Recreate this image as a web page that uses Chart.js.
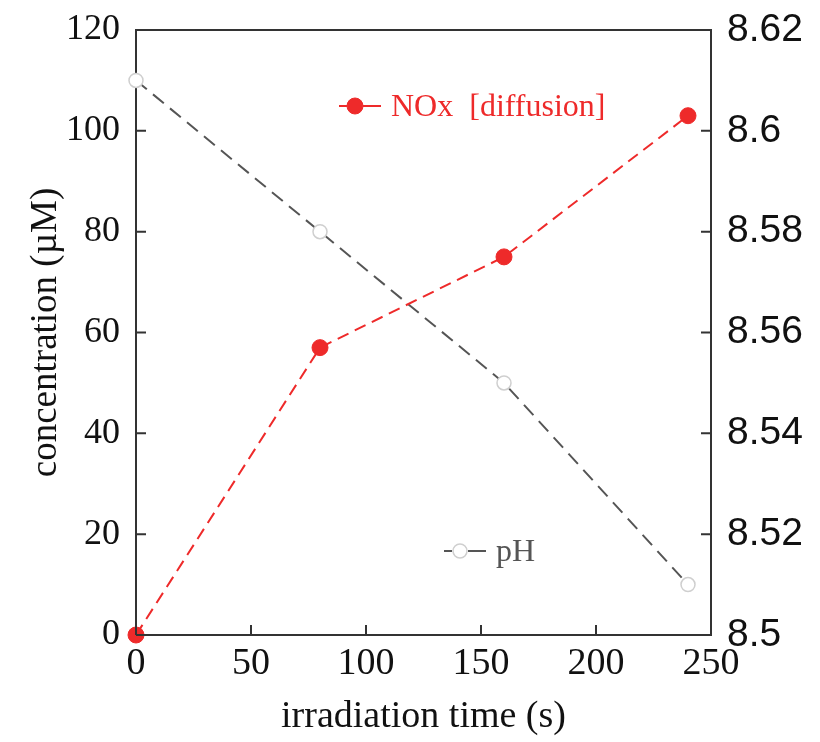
<!DOCTYPE html>
<html>
<head>
<meta charset="utf-8">
<script src="https://cdn.jsdelivr.net/npm/chart.js@4.4.1/dist/chart.umd.min.js"></script>
<style>
  html, body { margin: 0; padding: 0; background: #fff; }
  #wrap { width: 820px; height: 742px; }
</style>
</head>
<body>
<div id="wrap"><canvas id="chart"></canvas></div>
<script>
const times = [0, 80, 160, 240];
const noxValues = [0, 57, 75, 103];
const phValues = [8.61, 8.58, 8.55, 8.51];

const SERIF = '"Liberation Serif", "DejaVu Serif", serif';
const SANS = '"Liberation Sans", Arial, sans-serif';
const AXIS = '#333';

// inward tick marks + top frame line
const frame = {
  id: 'frame',
  afterDraw(chart) {
    const { ctx, chartArea: a, scales } = chart;
    ctx.save();
    ctx.strokeStyle = AXIS;
    ctx.lineWidth = 2;
    ctx.beginPath();
    ctx.moveTo(a.left, a.top);
    ctx.lineTo(a.right, a.top);
    scales.x.ticks.forEach(t => {
      const px = scales.x.getPixelForValue(t.value);
      ctx.moveTo(px, a.bottom);
      ctx.lineTo(px, a.bottom - 10);
    });
    scales.y.ticks.forEach(t => {
      const py = scales.y.getPixelForValue(t.value);
      ctx.moveTo(a.left, py);
      ctx.lineTo(a.left + 10, py);
    });
    scales.y1.ticks.forEach(t => {
      const py = scales.y1.getPixelForValue(t.value);
      ctx.moveTo(a.right, py);
      ctx.lineTo(a.right - 10, py);
    });
    ctx.stroke();
    ctx.restore();
  }
};

// legend entries placed inside the plot
const inlineLegend = {
  id: 'inlineLegend',
  afterDatasetsDraw(chart, args, opts) {
    const { ctx } = chart;
    opts.items.forEach(it => {
      const ds = chart.data.datasets[it.index];
      ctx.save();
      ctx.strokeStyle = it.lineColor;
      ctx.lineWidth = 2;
      ctx.beginPath();
      ctx.moveTo(it.x - 16, it.y);
      ctx.lineTo(it.x - 8, it.y);
      ctx.moveTo(it.x + 8, it.y);
      ctx.lineTo(it.x + 26, it.y);
      ctx.stroke();
      ctx.beginPath();
      ctx.arc(it.x, it.y, ds.pointRadius, 0, Math.PI * 2);
      ctx.fillStyle = ds.pointBackgroundColor;
      ctx.fill();
      ctx.lineWidth = ds.pointBorderWidth;
      ctx.strokeStyle = ds.pointBorderColor;
      ctx.stroke();
      ctx.fillStyle = it.textColor;
      ctx.font = '32px ' + SERIF;
      ctx.textBaseline = 'middle';
      ctx.fillText(ds.label, it.x + 36, it.y + 2);
      ctx.restore();
    });
  }
};

const noEdgePad = s => { s.paddingTop = 0; s.paddingBottom = 0; };

new Chart(document.getElementById('chart'), {
  type: 'line',
  data: {
    labels: times,
    datasets: [
      {
        label: 'NOx  [diffusion]',
        data: times.map((t, i) => ({ x: t, y: noxValues[i] })),
        yAxisID: 'y',
        borderColor: '#ee2a2a',
        borderWidth: 2,
        borderDash: [12, 7],
        pointRadius: 8,
        pointBackgroundColor: '#ee2a2a',
        pointBorderColor: '#ee2a2a',
        pointBorderWidth: 1,
        tension: 0,
        clip: false
      },
      {
        label: 'pH',
        data: times.map((t, i) => ({ x: t, y: phValues[i] })),
        yAxisID: 'y1',
        borderColor: '#555',
        borderWidth: 2,
        borderDash: [14, 8],
        pointRadius: 7,
        pointBackgroundColor: '#fff',
        pointBorderColor: '#cfcfcf',
        pointBorderWidth: 1.5,
        tension: 0,
        clip: false
      }
    ]
  },
  options: {
    responsive: true,
    maintainAspectRatio: false,
    animation: false,
    layout: { padding: { top: 30, left: 0, right: 0, bottom: 0 } },
    plugins: {
      legend: { display: false },
      tooltip: { enabled: false },
      inlineLegend: {
        items: [
          { index: 0, x: 355, y: 106, lineColor: '#ee2a2a', textColor: '#ee2a2a' },
          { index: 1, x: 460, y: 551, lineColor: '#555', textColor: '#555' }
        ]
      }
    },
    scales: {
      x: {
        type: 'linear',
        min: 0,
        max: 250,
        ticks: { stepSize: 50, color: '#111', font: { family: SERIF, size: 38 }, padding: 6, maxRotation: 0 },
        grid: { display: false, drawTicks: false },
        border: { color: AXIS, width: 2 },
        title: { display: true, text: 'irradiation time (s)', color: '#111', font: { family: SERIF, size: 38 }, padding: { top: 4, bottom: 2 } },
        afterFit: s => { s.height = 107; s.paddingLeft = 0; s.paddingRight = 0; }
      },
      y: {
        position: 'left',
        min: 0,
        max: 120,
        ticks: { stepSize: 20, color: '#111', font: { family: SERIF, size: 36 }, padding: 16 },
        grid: { display: false, drawTicks: false },
        border: { color: AXIS, width: 2 },
        title: { display: true, text: 'concentration (µM)', color: '#111', font: { family: SERIF, size: 37 }, padding: { top: 24, bottom: 0 } },
        afterFit: s => { s.width = 136; noEdgePad(s); }
      },
      y1: {
        position: 'right',
        min: 8.5,
        max: 8.62,
        ticks: { stepSize: 0.02, color: '#111', font: { family: SANS, size: 39 }, padding: 16, callback: v => String(+v.toFixed(2)) },
        grid: { display: false, drawTicks: false },
        border: { color: AXIS, width: 2 },
        afterFit: s => { s.width = 109; noEdgePad(s); }
      }
    }
  },
  plugins: [frame, inlineLegend]
});
</script>
</body>
</html>
